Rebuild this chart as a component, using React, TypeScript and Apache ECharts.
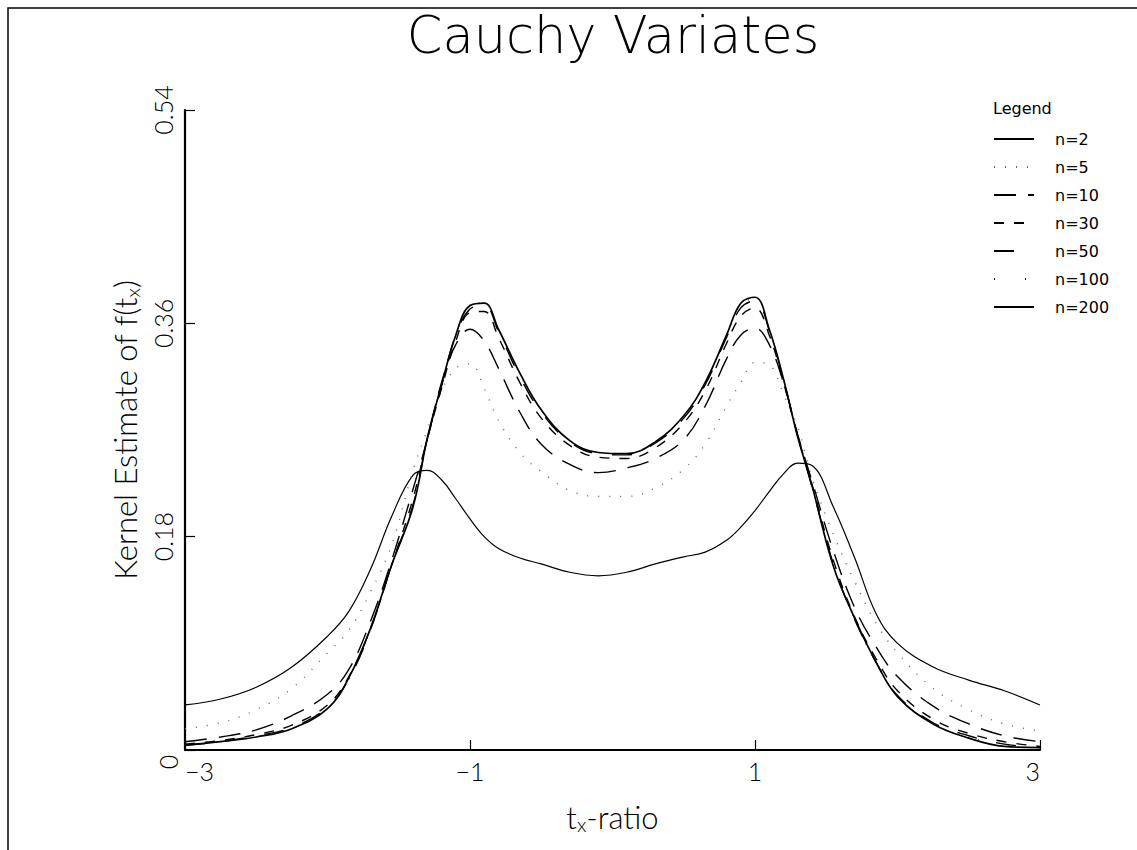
import React, { useEffect, useRef } from "react";
import * as echarts from "echarts";

const X = [-3, -2.75, -2.5, -2.25, -2, -1.85, -1.7, -1.55, -1.4, -1.3, -1.2, -1.1, -1.0, -0.9, -0.8, -0.65, -0.5, -0.3, -0.1,
  0.1, 0.3, 0.5, 0.65, 0.8, 0.9, 1.0, 1.1, 1.2, 1.3, 1.4, 1.55, 1.7, 1.85, 2, 2.25, 2.5, 2.75, 3];

const n2 = [0.038, 0.043, 0.053, 0.07, 0.096, 0.117, 0.152, 0.197, 0.232, 0.236, 0.228, 0.212, 0.195, 0.18, 0.17, 0.162, 0.157, 0.15, 0.147,
  0.15, 0.157, 0.163, 0.167, 0.177, 0.188, 0.202, 0.218, 0.233, 0.242, 0.24, 0.205, 0.162, 0.115, 0.09, 0.07, 0.059, 0.05, 0.038];
const n5 = [0.018, 0.023, 0.034, 0.052, 0.082, 0.101, 0.133, 0.173, 0.236, 0.27, 0.303, 0.322, 0.326, 0.305, 0.278, 0.251, 0.235, 0.219, 0.214,
  0.214, 0.221, 0.237, 0.258, 0.29, 0.31, 0.327, 0.325, 0.3, 0.272, 0.23, 0.182, 0.142, 0.107, 0.082, 0.052, 0.034, 0.022, 0.016];
const n10 = [0.007, 0.011, 0.017, 0.029, 0.047, 0.068, 0.108, 0.16, 0.22, 0.262, 0.31, 0.342, 0.355, 0.345, 0.322, 0.285, 0.258, 0.241, 0.234,
  0.238, 0.246, 0.262, 0.29, 0.33, 0.35, 0.356, 0.342, 0.31, 0.266, 0.227, 0.168, 0.12, 0.087, 0.062, 0.037, 0.022, 0.012, 0.007];
const n30 = [0.005, 0.008, 0.013, 0.021, 0.038, 0.062, 0.102, 0.156, 0.212, 0.262, 0.305, 0.345, 0.369, 0.37, 0.348, 0.31, 0.28, 0.257, 0.247,
  0.246, 0.255, 0.276, 0.303, 0.343, 0.366, 0.373, 0.35, 0.31, 0.265, 0.224, 0.16, 0.112, 0.077, 0.05, 0.026, 0.014, 0.007, 0.003];
const n50 = [0.004, 0.007, 0.012, 0.019, 0.036, 0.06, 0.101, 0.156, 0.207, 0.262, 0.307, 0.35, 0.372, 0.375, 0.353, 0.315, 0.285, 0.26, 0.25,
  0.249, 0.259, 0.28, 0.308, 0.348, 0.373, 0.379, 0.354, 0.312, 0.265, 0.222, 0.157, 0.11, 0.074, 0.046, 0.023, 0.012, 0.005, 0.002];
const n100 = [0.004, 0.007, 0.011, 0.018, 0.035, 0.059, 0.1, 0.155, 0.206, 0.262, 0.308, 0.351, 0.374, 0.377, 0.355, 0.317, 0.287, 0.261, 0.251,
  0.25, 0.26, 0.281, 0.309, 0.349, 0.375, 0.381, 0.355, 0.313, 0.265, 0.222, 0.157, 0.11, 0.073, 0.045, 0.022, 0.011, 0.004, 0.002];
const n200 = [0.004, 0.007, 0.011, 0.018, 0.035, 0.061, 0.102, 0.156, 0.205, 0.263, 0.308, 0.35, 0.375, 0.377, 0.355, 0.318, 0.287, 0.261, 0.251,
  0.25, 0.26, 0.282, 0.31, 0.35, 0.377, 0.382, 0.355, 0.313, 0.264, 0.223, 0.155, 0.111, 0.074, 0.045, 0.022, 0.01, 0.003, 0.002];

const SERIES_NAMES = ["n=2", "n=5", "n=10", "n=30", "n=50", "n=100", "n=200"];
const SERIES_VALUES = [n2, n5, n10, n30, n50, n100, n200];
const X_TICKS = [-3, -1, 1, 3];
const Y_MIN = 0;
const Y_MAX = 0.54;
const Y_STEP = 0.18;

const FONT = "Lato";
const TITLE_FONT = "DejaVu Sans";

const LINE_STYLES: any[] = [
  { type: "solid", width: 1.2 },
  { type: [1, 10], width: 1.4, color: "#666" },
  { type: [22, 12], width: 1.4 },
  { type: [10, 10], width: 1.4 },
  { type: [20, 20], width: 1.4 },
  { type: [1, 30], width: 1 },
  { type: "solid", width: 1.7 },
];

export default function App() {
  const ref = useRef<HTMLDivElement>(null);
  useEffect(() => {
    const chart = echarts.init(ref.current!, null, { renderer: "svg" });
    const nameRich = {
      m: { fontFamily: FONT, fontWeight: 300, fontSize: 31, color: "#000", lineHeight: 34, verticalAlign: "middle" },
      s: { fontFamily: FONT, fontWeight: 300, fontSize: 20, color: "#000", lineHeight: 20, padding: [26, 0, 0, 0], verticalAlign: "bottom" },
    };
    const option: any = {
      animation: false,
      backgroundColor: "#fff",
      title: [
        {
          text: "Cauchy Variates",
          left: 608,
          top: 5,
          textAlign: "center",
          textStyle: { fontFamily: TITLE_FONT, fontWeight: 200, fontSize: 51, color: "#000" },
        },
        {
          text: "Legend",
          left: 988,
          top: 95,
          textStyle: { fontFamily: "DejaVu Sans", fontWeight: "normal", fontSize: 16, color: "#000" },
        },
      ],
      legend: {
        data: SERIES_NAMES,
        orient: "vertical",
        left: 988,
        top: 126,
        itemWidth: 40,
        itemHeight: 12,
        itemGap: 12,
        selectedMode: false,
        itemStyle: { opacity: 0 },
        textStyle: { fontFamily: "DejaVu Sans", fontSize: 16, color: "#000", padding: [0, 0, 0, 16] },
      },
      grid: { left: 185, right: 97, top: 110, bottom: 100, containLabel: false },
      xAxis: {
        type: "value",
        min: -3,
        max: 3,
        axisLine: { show: true, onZero: false, lineStyle: { color: "#000", width: 2.2 } },
        axisTick: { show: true, inside: true, length: 10, customValues: X_TICKS, lineStyle: { color: "#000", width: 1.2 } },
        axisLabel: {
          customValues: X_TICKS,
          formatter: (v: number) => (v < 0 ? "\u2212" + Math.abs(v) : String(v)),
          fontFamily: FONT,
          fontWeight: 300,
          fontSize: 25,
          color: "#000",
          margin: 8,
          alignMinLabel: "left",
          alignMaxLabel: "right",
        },
        splitLine: { show: false },
        name: "{m|t}{s|x}{m|-ratio}",
        nameLocation: "middle",
        nameGap: 33,
        nameTextStyle: { rich: nameRich },
      },
      yAxis: {
        type: "value",
        min: Y_MIN,
        max: Y_MAX,
        interval: Y_STEP,
        axisLine: { show: true, onZero: false, lineStyle: { color: "#000", width: 2.2 } },
        axisTick: { show: true, inside: true, length: 10, lineStyle: { color: "#000", width: 1.2 } },
        axisLabel: {
          rotate: 90,
          formatter: (v: number) => (v === 0 ? "" : v.toFixed(2)),
          fontFamily: FONT,
          fontWeight: 300,
          fontSize: 25,
          color: "#000",
          margin: 10,
        },
        splitLine: { show: false },
        name: "{m|Kernel Estimate of f(t}{s|x}{m|)}",
        nameLocation: "middle",
        nameRotate: 90,
        nameGap: 40,
        nameTextStyle: { rich: nameRich },
      },
      graphic: [
        {
          type: "rect",
          z: -10,
          shape: { x: 8, y: 8, width: 1400, height: 1000 },
          style: { fill: "none", stroke: "#000", lineWidth: 1.5 },
        },
        {
          type: "text",
          x: 168,
          y: 762,
          rotation: Math.PI / 2,
          style: { text: "0", fontFamily: FONT, fontWeight: 300, fontSize: 25, fill: "#000", align: "center", verticalAlign: "middle" },
        },
      ],
      series: SERIES_NAMES.map((name, k) => ({
        name,
        type: "line",
        smooth: 0.4,
        symbol: "none",
        data: X.map((x, i) => [x, SERIES_VALUES[k][i]]),
        lineStyle: { color: "#000", ...LINE_STYLES[k] },
        itemStyle: { color: "#000" },
      })),
    };
    chart.setOption(option);
    return () => chart.dispose();
  }, []);
  return (
    <div
      ref={ref}
      style={{ position: "fixed", left: 0, top: 0, width: 1137, height: 850, background: "#fff" }}
    />
  );
}
